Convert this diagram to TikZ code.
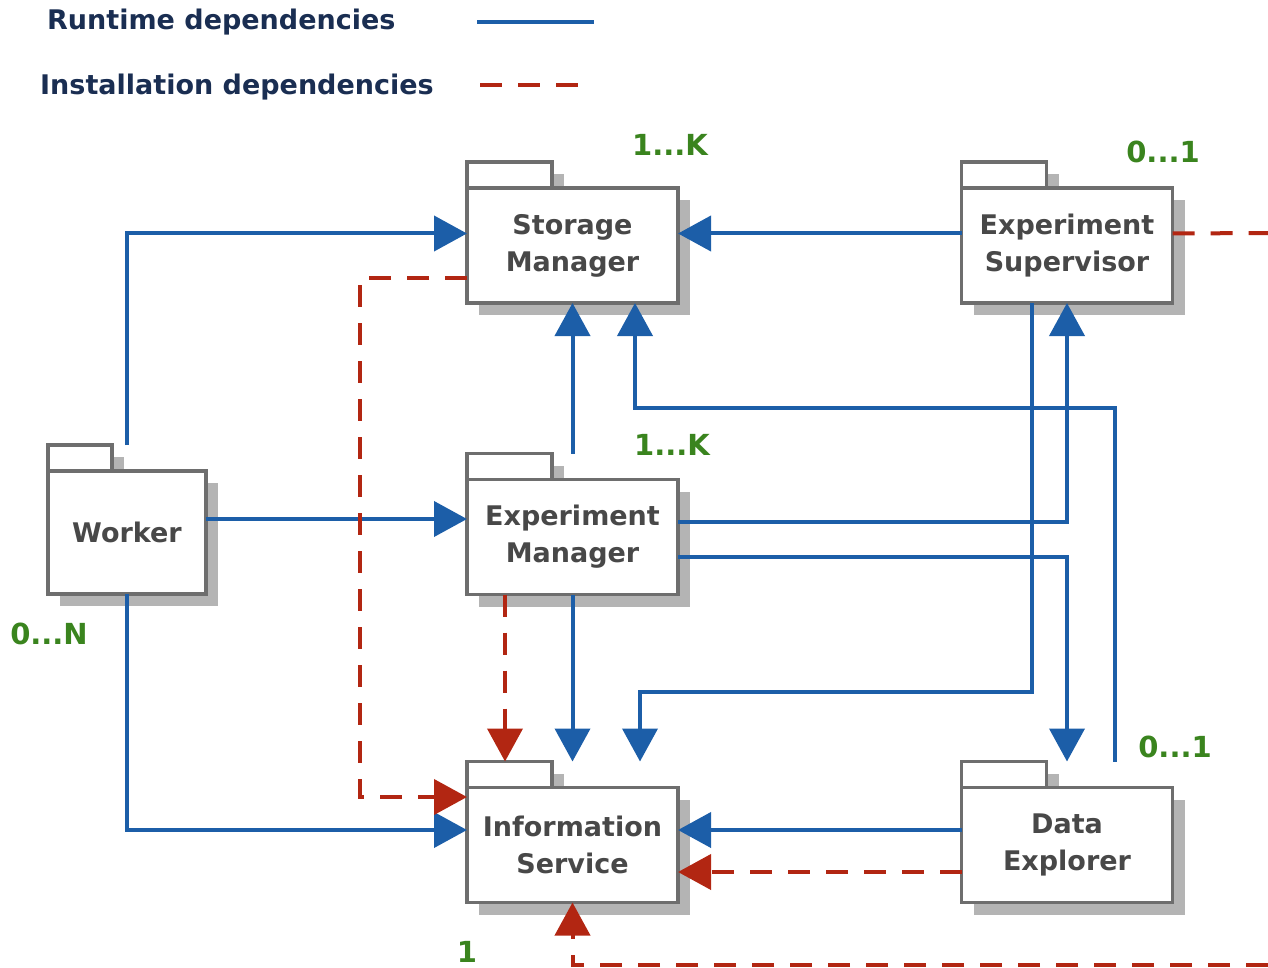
\documentclass[tikz,border=0pt]{standalone}
\usepackage{fontspec}
\setmainfont{DejaVu Sans}
\usetikzlibrary{arrows.meta,positioning,backgrounds}
\definecolor{depblue}{RGB}{28,94,168}
\definecolor{instred}{RGB}{178,38,18}
\definecolor{multgreen}{RGB}{58,132,30}
\definecolor{legendtext}{RGB}{26,46,82}
\definecolor{pkgborder}{RGB}{110,110,110}
\definecolor{pkgshadow}{RGB}{180,180,180}
\definecolor{pkgtext}{RGB}{72,72,72}
\tikzstyle{pkg}=[rectangle,draw=pkgborder,line width=3.5pt,fill=white,outer sep=0pt,align=center,minimum width=211pt,minimum height=115pt,text=pkgtext,font=\fontsize{27}{37}\selectfont\bfseries]
\tikzstyle{tab}=[draw=pkgborder,line width=3.5pt,fill=white]
\tikzstyle{shade}=[fill=pkgshadow]
\tikzstyle{run}=[depblue,line width=4pt,-{Triangle[length=33pt,width=35pt]}]
\tikzstyle{inst}=[instred,line width=4pt,dash pattern=on 22pt off 16pt,-{Triangle[length=33pt,width=35pt]}]
\tikzstyle{mult}=[text=multgreen,font=\fontsize{29}{31}\selectfont\bfseries]
\tikzstyle{legend}=[text=legendtext,anchor=west,inner sep=0pt,font=\fontsize{27}{31}\selectfont\bfseries]

\begin{document}
\begin{tikzpicture}[x=1pt,y=-1pt,node distance=300pt]
\useasboundingbox (0,0) rectangle (1268,968);
% legend
\node[legend] (rt) at (47,22) {Runtime dependencies};
\node[legend] (it) at (40,87) {Installation dependencies};
\coordinate (rt1) at (477,22);
\coordinate (rt2) at (594,22);
\coordinate (it1) at (480,85);
\coordinate (it2) at (592,85);
\draw[run,-] (rt1) -- (rt2);
\draw[inst,-] (it1) -- (it2);
% packages
\node[pkg] (SM) at (572.5,245.5) {Storage\\Manager};
\node[pkg, below of=SM, yshift=8.5pt] (EM) {Experiment\\Manager};
\node[pkg, below of=EM, yshift=-8pt] (IS) {Information\\Service};
\node[pkg, right of=SM, xshift=194.5pt] (ES) {Experiment\\Supervisor};
\node[pkg, right of=IS, xshift=194.5pt] (DE) {Data\\Explorer};
\node[pkg, left of=EM, xshift=-145.5pt, yshift=4.5pt, minimum width=158pt, minimum height=123pt] (W) {Worker};
\begin{scope}[on background layer]
\foreach \n/\w in {SM/85,EM/85,IS/85,ES/85,DE/85,W/64}{
  \fill[shade] ([shift={(12pt,-12pt)}]\n.south west) rectangle ([shift={(12pt,-12pt)}]\n.north east);
  \fill[shade] ([shift={(12pt,-12pt)}]\n.north west) rectangle ++(\w,-26);
}
\end{scope}
\foreach \n/\w in {SM/85,EM/85,IS/85,ES/85,DE/85,W/64}
  \draw[tab] (\n.north west) rectangle ++(\w,-26);
% tab tops
\coordinate (Wtop) at ([yshift=26pt]W.north);
\coordinate (EMtop) at ([yshift=26pt]EM.north);
\coordinate (IStop) at ([yshift=26pt]IS.north);
\coordinate (DEtop) at ([yshift=26pt]DE.north);
% runtime dependencies
\draw[run] (Wtop) |- ([yshift=12pt]SM.west);
\draw[run] ([yshift=12pt]ES.west) -- ([yshift=12pt]SM.east);
\draw[run] (EMtop) -- (SM.south);
\draw[run] ([xshift=48pt]DEtop) -- ++(0,-354) -| ([xshift=62.5pt]SM.south);
\draw[run] ([yshift=13.5pt]W.east) -- ([yshift=13.5pt]W.east -| EM.west);
\draw[run] ([yshift=15pt]EM.east) -| (ES.south);
\draw[run] ([yshift=-20pt]EM.east) -| (DEtop);
\draw[run] (EM.south) -- (IStop);
\draw[run] ([xshift=-35pt]ES.south) -- ++(0,389) -| ([xshift=67.5pt]IStop);
\draw[run] (W.south) |- ([yshift=15pt]IS.west);
\draw[run] ([yshift=15pt]DE.west) -- ([yshift=15pt]IS.east);
% installation dependencies
\coordinate (out1) at (1268,233);
\coordinate (out2) at (1268,965);
\draw[inst] ([yshift=-32.5pt]SM.west) -- ++(-107,0) |- ([yshift=48pt]IS.west);
\draw[inst] ([xshift=-67.5pt]EM.south) -- ([xshift=-67.5pt]IStop);
\draw[inst] ([yshift=-27pt]DE.west) -- ([yshift=-27pt]IS.east);
\draw[inst,-] ([yshift=12pt]ES.east) -- (out1);
\draw[inst] (out2) -| (IS.south);
% multiplicities
\node[mult] (mSM) at (670,145) {1...K};
\node[mult] (mES) at (1163,152) {0...1};
\node[mult] (mEM) at (672,445) {1...K};
\node[mult] (mW) at (49,634) {0...N};
\node[mult] (mDE) at (1175,747) {0...1};
\node[mult] (mIS) at (467,952) {1};
\end{tikzpicture}
\end{document}
